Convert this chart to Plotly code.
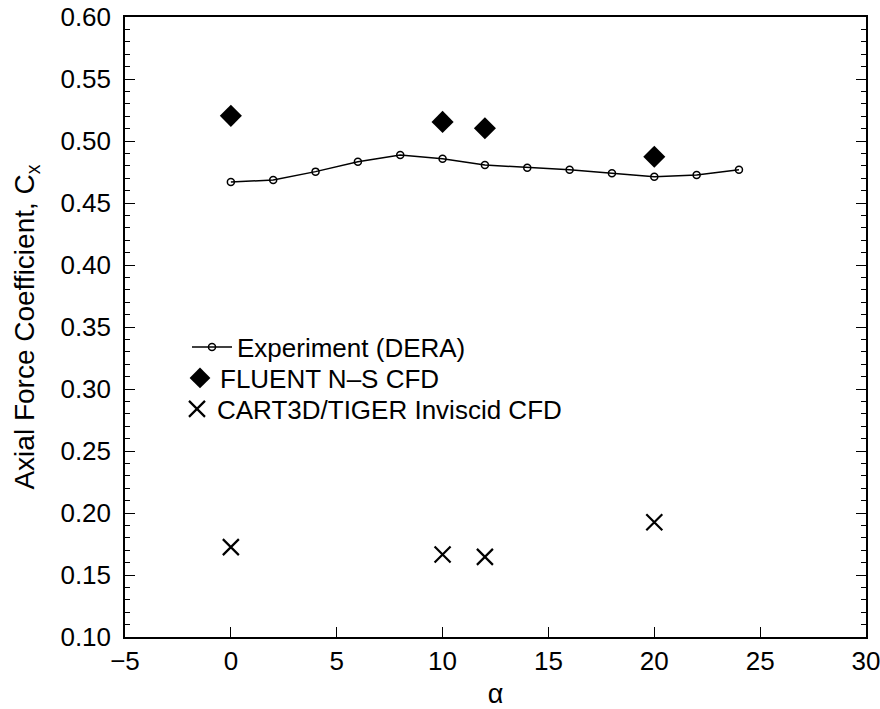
import plotly.graph_objects as go

exp_alpha = [0, 2, 4, 6, 8, 10, 12, 14, 16, 18, 20, 22, 24]
exp_cx = [0.467, 0.4685, 0.4753, 0.4833, 0.4887, 0.4857, 0.4806, 0.4785, 0.4769, 0.474, 0.4712, 0.4726, 0.4769]

fluent_alpha = [0, 10, 12, 20]
fluent_cx = [0.5203, 0.5154, 0.5103, 0.4873]

cart_alpha = [0, 10, 12, 20]
cart_cx = [0.1725, 0.1665, 0.1646, 0.1925]

font = "Liberation Sans, Arial, Helvetica, sans-serif"

fig = go.Figure()
fig.add_trace(go.Scatter(
    x=exp_alpha, y=exp_cx, mode="lines+markers", name="Experiment (DERA)",
    line=dict(color="black", width=1.5), legend="legend",
    marker=dict(symbol="circle-open", size=7, color="black", line=dict(width=1.5)),
))
fig.add_trace(go.Scatter(
    x=fluent_alpha, y=fluent_cx, mode="markers", name="FLUENT N\u2013S CFD",
    legend="legend2",
    marker=dict(symbol="diamond", size=17, color="black", line=dict(width=0)),
))
fig.add_trace(go.Scatter(
    x=cart_alpha, y=cart_cx, mode="markers", name="CART3D/TIGER Inviscid CFD",
    legend="legend3",
    marker=dict(symbol="x-thin", size=16, color="black", line=dict(width=2.2, color="black")),
))

def px_x(p):
    return (p - 125) / 741.0

def px_y(p):
    return (637 - p) / 620.0

leg_common = dict(xanchor="left", yanchor="middle", bgcolor="rgba(0,0,0,0)",
                  font=dict(size=26, family=font), borderwidth=0)

fig.update_layout(
    width=880, height=709,
    margin=dict(l=125, r=14, t=17, b=72),
    paper_bgcolor="white", plot_bgcolor="white",
    font=dict(family=font, size=26, color="black"),
    showlegend=True,
    legend=dict(x=px_x(187), y=px_y(347), itemwidth=40, **leg_common),
    legend2=dict(x=px_x(180), y=px_y(378), itemwidth=30, **leg_common),
    legend3=dict(x=px_x(177), y=px_y(409), itemwidth=30, **leg_common),
    xaxis=dict(
        range=[-5, 30], dtick=5, tick0=-5, automargin=False,
        showgrid=False, zeroline=False, ticklabeloverflow="allow",
        showline=True, linecolor="black", linewidth=1.5, mirror=True,
        ticks="inside", ticklen=10, tickwidth=1, tickcolor="black",
        tickfont=dict(size=26, family=font),
        title=dict(text="\u03b1", font=dict(size=27, family=font), standoff=10),
    ),
    yaxis=dict(
        range=[0.10, 0.60], dtick=0.05, tick0=0.10, tickformat=".2f", automargin=False,
        showgrid=False, zeroline=False, ticklabeloverflow="allow",
        showline=True, linecolor="black", linewidth=1.5, mirror="ticks",
        ticks="inside", ticklen=10, tickwidth=1, tickcolor="black",
        ticklabelstandoff=7,
        tickfont=dict(size=26, family=font),
        minor=dict(ticks="inside", dtick=0.01, ticklen=5, tickwidth=1, tickcolor="black"),
        title=dict(text="Axial Force Coefficient, C<sub>x</sub>", font=dict(size=28, family=font), standoff=18),
    ),
)

fig.write_html("out.html")
